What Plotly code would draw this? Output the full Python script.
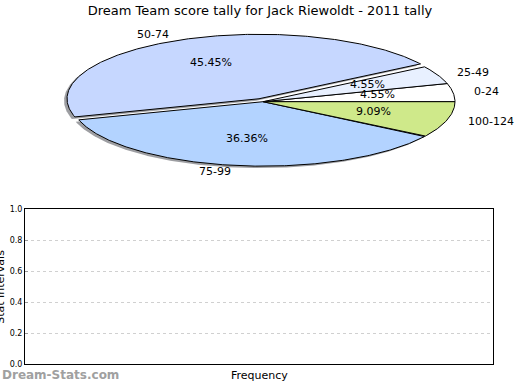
import numpy as np
import plotly.graph_objects as go

# ---- data ----
categories = ["0-24", "25-49", "50-74", "75-99", "100-124"]
counts = [1, 1, 10, 8, 2]
colors = ["#ffffff", "#e8f0ff", "#c6d7ff", "#b3d3ff", "#cfe98a"]
explode = [0.0, 0.0, 0.05, 0.0, 0.0]
y_ticks = [0.0, 0.2, 0.4, 0.6, 0.8, 1.0]
title_text = "Dream Team score tally for Jack Riewoldt - 2011 tally"

W, H = 520, 390
# pie geometry (pixel units on a hidden full-page axis)
CX, CY, RX, RY = 263, 100, 192, 66
SHX, SHY = -3, 2

fig = go.Figure()
total = float(sum(counts))
fracs = [c / total for c in counts]
starts = np.concatenate([[0.0], np.cumsum(fracs)[:-1]]) * 360.0

def wedge(a0, a1, e, off=(0, 0)):
    mid = np.deg2rad((a0 + a1) / 2)
    dx = RX * e * np.cos(mid) + off[0]
    dy = -RY * e * np.sin(mid) + off[1]
    t = np.deg2rad(np.linspace(a0, a1, max(8, int(abs(a1 - a0) * 2))))
    xs = np.concatenate([[CX], CX + RX * np.cos(t), [CX]]) + dx
    ys = np.concatenate([[CY], CY - RY * np.sin(t), [CY]]) + dy
    return xs, ys

# shadows
for i, f in enumerate(fracs):
    a0 = starts[i]; a1 = a0 + f * 360
    xs, ys = wedge(a0, a1, explode[i], (SHX, SHY))
    fig.add_trace(go.Scatter(x=xs, y=ys, fill="toself", mode="lines",
                             line=dict(width=0), fillcolor="rgba(60,62,70,0.5)",
                             hoverinfo="skip", showlegend=False, xaxis="x", yaxis="y"))
# wedges
for i, f in enumerate(fracs):
    a0 = starts[i]; a1 = a0 + f * 360
    xs, ys = wedge(a0, a1, explode[i])
    fig.add_trace(go.Scatter(x=xs, y=ys, fill="toself", mode="lines",
                             line=dict(width=1, color="black"), fillcolor=colors[i],
                             name=categories[i], showlegend=False, xaxis="x", yaxis="y"))

annotations = []
for i, f in enumerate(fracs):
    a0 = starts[i]; a1 = a0 + f * 360
    mid = np.deg2rad((a0 + a1) / 2)
    c, s = np.cos(mid), np.sin(mid)
    dx = RX * explode[i] * c
    dy = -RY * explode[i] * s
    # percent label
    annotations.append(dict(x=CX + 0.6 * RX * c + dx, y=CY - 0.6 * RY * s + dy - 1.5,
                            xref="x", yref="y", text=f"{f*100:.2f}%", showarrow=False,
                            xanchor="center", yanchor="middle",
                            font=dict(size=11, color="black")))
    # category label
    annotations.append(dict(x=CX + 1.1 * RX * c + dx, y=CY - 1.1 * RY * s + dy,
                            xref="x", yref="y", text=categories[i], showarrow=False,
                            xanchor="left" if c > 0 else "right", yanchor="middle",
                            font=dict(size=11, color="black")))

# bottom empty axes
x0, x1 = 25 / W, 493 / W
y0, y1 = (H - 369) / H, (H - 210) / H
fig.add_trace(go.Scatter(x=[], y=[], xaxis="x2", yaxis="y2", showlegend=False))

annotations.append(dict(x=(x0 + x1) / 2, y=(H - 380) / H, xref="paper", yref="paper",
                        text="Frequency", showarrow=False, xanchor="center", yanchor="middle",
                        font=dict(size=11, color="black")))
annotations.append(dict(x=1 / W, y=(y0 + y1) / 2, xref="paper", yref="paper",
                        text="Stat Intervals", textangle=-90, showarrow=False,
                        xanchor="center", yanchor="middle",
                        font=dict(size=11, color="black")))
annotations.append(dict(x=0, y=(H - 380) / H, xref="paper", yref="paper",
                        text="<b>Dream-Stats.com</b>", showarrow=False,
                        xanchor="left", yanchor="middle",
                        font=dict(size=12, color="#a0a0a0")))

fig.update_layout(
    width=W, height=H,
    margin=dict(l=0, r=0, t=0, b=0),
    paper_bgcolor="white", plot_bgcolor="rgba(0,0,0,0)",
    font=dict(family="DejaVu Sans", color="black"),
    title=dict(text=title_text, x=0.5, xanchor="center", y=(H - 10) / H, yanchor="middle",
               font=dict(size=13, color="black")),
    xaxis=dict(domain=[0, 1], range=[0, W], visible=False, fixedrange=True),
    yaxis=dict(domain=[0, 1], range=[H, 0], visible=False, fixedrange=True),
    xaxis2=dict(domain=[x0, x1], range=[0, 1], anchor="y2", showticklabels=False,
                ticks="", showgrid=False, zeroline=False, showline=True, mirror=True,
                linecolor="black", linewidth=1),
    yaxis2=dict(domain=[y0, y1], range=[0, 1], anchor="x2", tickvals=y_ticks,
                ticktext=[f"{v:.1f}" for v in y_ticks], ticks="inside", ticklen=3,
                tickcolor="#999", tickfont=dict(size=8, color="black"),
                showgrid=True, gridcolor="#d0d0d0", griddash="dot", gridwidth=1,
                zeroline=False, showline=True, mirror=True, linecolor="black", linewidth=1),
    annotations=annotations,
    showlegend=False,
)

fig.write_html("out.html", config={"displayModeBar": False},
               post_script="document.body.style.margin='0';document.body.style.overflow='hidden';")
